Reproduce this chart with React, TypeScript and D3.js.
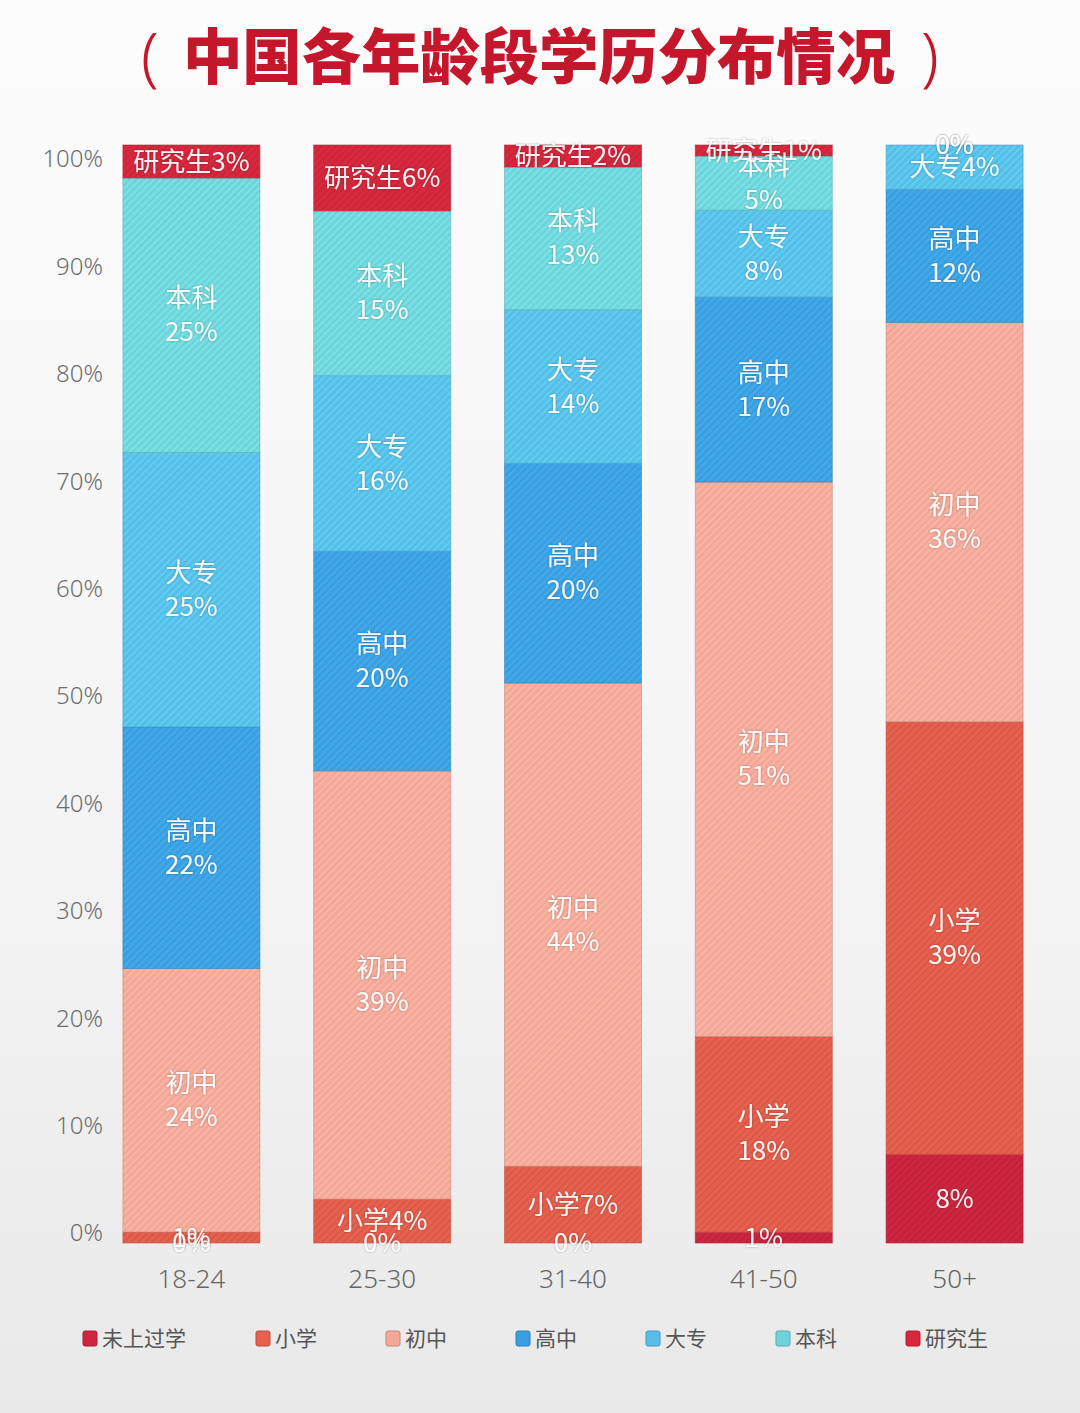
import React from "react";
import * as d3 from "d3";

const categories = ["18-24", "25-30", "31-40", "41-50", "50+"];
const seriesNames = ["未上过学", "小学", "初中", "高中", "大专", "本科", "研究生"];
const neverSchool = [0, 0, 0, 1, 8];
const primary = [1, 4, 7, 18, 39];
const juniorHigh = [24, 39, 44, 51, 36];
const seniorHigh = [22, 20, 20, 17, 12];
const college = [25, 16, 14, 8, 4];
const bachelor = [25, 15, 13, 5, 0];
const graduate = [3, 6, 2, 1, 0];
const yTicks = [0, 10, 20, 30, 40, 50, 60, 70, 80, 90, 100];
const seriesColors = ["#cf2540", "#e8604e", "#f4a797", "#3b9ee0", "#57bee8", "#6fd4d9", "#d8283e"];
const title = "中国各年龄段学历分布情况";

const seriesValues = [neverSchool, primary, juniorHigh, seniorHigh, college, bachelor, graduate];

const W = 1080;
const H = 1413;
const FONT = "'Noto Sans CJK SC', 'Noto Sans', sans-serif";

export default function App() {
  const rows = categories.map((c, i) => {
    const r: any = { cat: c };
    seriesNames.forEach((s, j) => (r[s] = seriesValues[j][i]));
    return r;
  });
  const stack = d3.stack<any>().keys(seriesNames).offset(d3.stackOffsetExpand);
  const stacked = stack(rows);

  const x = d3.scaleBand().domain(categories).range([96, 1050]).paddingInner(0.282).paddingOuter(0.141);
  const y = d3.scaleLinear().domain([0, 1]).range([1243, 145]);
  const yLabel = d3.scaleLinear().domain([0, 100]).range([1233, 159]);

  const valueOnly = (k: string, v: number) => k === "未上过学" || v === 0 || (v <= 1 && k !== "研究生");
  const singleLine = (k: string, v: number) => k === "研究生" || v < 5 || (k === "小学" && v < 10);

  // legend layout
  const legendFont = 21;
  let lx = 83;
  const legendItems = seriesNames.map((s, i) => {
    const item = { s, i, x: lx };
    lx += 20 + s.length * 21.5 + 67;
    return item;
  });

  return (
    <svg width={W} height={H} style={{ position: "absolute", left: 0, top: 0 }} xmlns="http://www.w3.org/2000/svg">
      <defs>
        <linearGradient id="bg" x1="0" y1="0" x2="0" y2="1">
          <stop offset="0" stopColor="#fcfcfc" />
          <stop offset="0.6" stopColor="#f4f4f4" />
          <stop offset="1" stopColor="#e9e9e9" />
        </linearGradient>
        {seriesNames.map((s, i) => {
          const base = d3.color(seriesColors[i])!;
          const isRed = i === 0 || i === 1 || i === 6;
          const stripe = isRed ? base.darker(0.5).formatHex() : base.brighter(0.6).formatHex();
          return (
            <pattern key={s} id={`pat${i}`} patternUnits="userSpaceOnUse" width={5} height={5} patternTransform="rotate(45)">
              <rect width={5} height={5} fill={seriesColors[i]} />
              <line x1={1} y1={0} x2={1} y2={5} stroke={stripe} strokeWidth={1.3} strokeOpacity={isRed ? 0.65 : 0.55} />
            </pattern>
          );
        })}
        <filter id="shadow" x="-20%" y="-20%" width="140%" height="140%">
          <feDropShadow dx="0" dy="0" stdDeviation="1.2" floodColor="#000" floodOpacity="0.35" />
        </filter>
      </defs>
      <rect width={W} height={H} fill="url(#bg)" />

      {/* Title */}
      <text x={150} y={79} fontFamily="'Noto Sans', sans-serif" fontWeight={300} fontSize={64} fill="#c4172c" textAnchor="middle">(</text>
      <text x={930} y={79} fontFamily="'Noto Sans', sans-serif" fontWeight={300} fontSize={64} fill="#c4172c" textAnchor="middle">)</text>
      <text x={183} y={79} fontFamily={FONT} fontWeight={900} fontSize={60} textLength={712} lengthAdjust="spacingAndGlyphs" fill="#c4172c">
        {title}
      </text>

      {/* Y tick labels */}
      {yTicks.map((t) => (
        <text key={t} x={103} y={yLabel(t)} dy="0.35em" textAnchor="end" fontFamily="'Noto Sans', sans-serif" fontWeight={300} fontSize={24} fill="#6e6e6e">
          {t}%
        </text>
      ))}

      {/* Bars */}
      {stacked.map((layer, i) => (
        <g key={layer.key}>
          {layer.map((d, j) => {
            const x0 = x(categories[j])!;
            const y0 = y(d[1]);
            const h = y(d[0]) - y(d[1]);
            return (
              <rect key={j} x={x0} y={y0} width={x.bandwidth()} height={Math.max(0, h)} fill={`url(#pat${i})`}
                stroke={d3.color(seriesColors[i])!.darker(0.5).formatHex()} strokeWidth={1} strokeOpacity={0.6} />
            );
          })}
        </g>
      ))}

      {/* Segment labels */}
      {stacked.map((layer, i) => (
        <g key={layer.key + "l"} filter="url(#shadow)">
          {layer.map((d, j) => {
            const k = layer.key;
            const v = seriesValues[i][j];
            const cx = x(categories[j])! + x.bandwidth() / 2;
            const cy = (y(d[0]) + y(d[1])) / 2;
            const common = { textAnchor: "middle" as const, fontFamily: FONT, fontSize: 26, fill: "#ffffff", fillOpacity: 0.92 };
            if (valueOnly(k, v)) {
              return <text key={j} x={cx} y={cy} dy="0.35em" {...common}>{v}%</text>;
            }
            if (singleLine(k, v)) {
              return <text key={j} x={cx} y={cy} dy="0.35em" {...common}>{k}{v}%</text>;
            }
            return (
              <g key={j}>
                <text x={cx} y={cy - 17} dy="0.35em" {...common}>{k}</text>
                <text x={cx} y={cy + 17} dy="0.35em" {...common}>{v}%</text>
              </g>
            );
          })}
        </g>
      ))}

      {/* Category labels */}
      {categories.map((c) => (
        <text key={c} x={x(c)! + x.bandwidth() / 2} y={1279} dy="0.35em" textAnchor="middle" fontFamily="'Noto Sans', sans-serif" fontWeight={300} fontSize={26} fill="#666">
          {c}
        </text>
      ))}

      {/* Legend */}
      {legendItems.map((it) => (
        <g key={it.s}>
          <rect x={it.x} y={1331} width={14} height={15} rx={2} fill={seriesColors[it.i]} stroke={d3.color(seriesColors[it.i])!.darker(0.6).formatHex()} strokeWidth={1} />
          <text x={it.x + 19} y={1339} dy="0.35em" fontFamily={FONT} fontSize={legendFont} fill="#555">
            {it.s}
          </text>
        </g>
      ))}
    </svg>
  );
}
